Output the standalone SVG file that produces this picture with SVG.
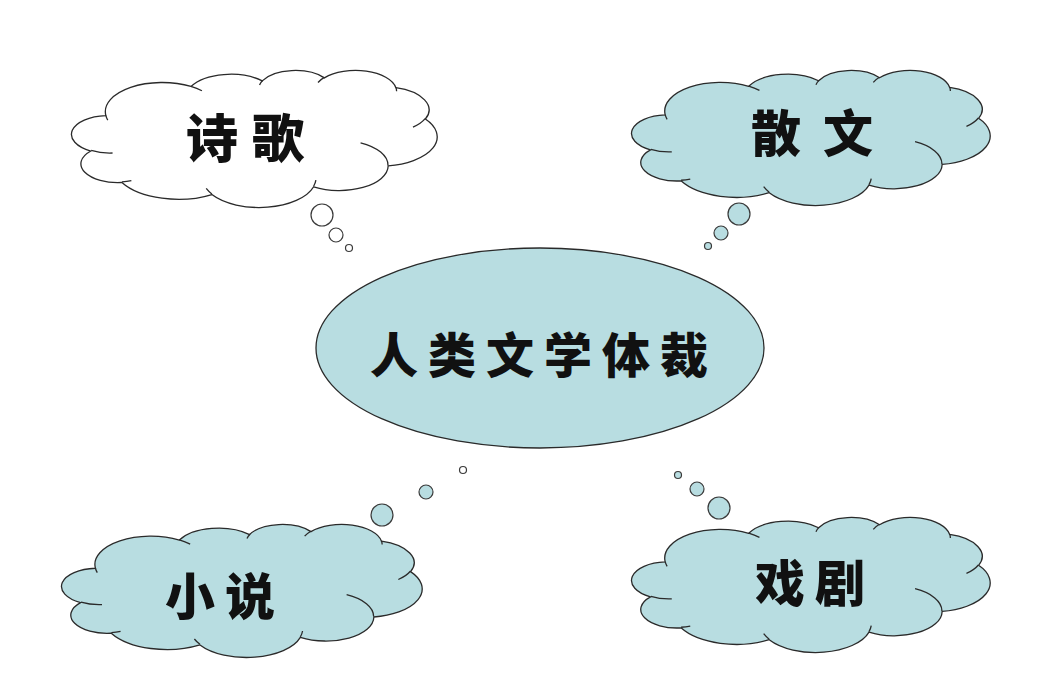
<svg xmlns="http://www.w3.org/2000/svg" xmlns:xlink="http://www.w3.org/1999/xlink" width="1060" height="693" viewBox="0 0 1060 693">
<style>
.blue{fill:#b8dde1}
.white{fill:#ffffff}
.ln{stroke:#2a2a2a;stroke-width:1.3}
.curl{fill:none;stroke:#2a2a2a;stroke-width:1.3}
.bub{stroke:#3a3a3a;stroke-width:1.2}
.lbl{font-family:"Noto Sans CJK SC","Noto Sans CJK JP",sans-serif;font-weight:900;fill:#111111}
</style>
<defs>
<path id="cloudOutline" vector-effect="non-scaling-stroke" d="M3900 14370A6753 9190 0 0 1 14004 5202A5333 7267 0 0 1 22458 3436A4365 5945 0 0 1 29835 2484A4857 6595 0 0 1 38321 5579A5333 7273 0 0 1 41821 15463A6775 9220 0 0 1 37408 30208A5785 7867 0 0 1 28560 36818A6752 9215 0 0 1 16483 39268A7720 10543 0 0 1 5807 35472A4360 5918 0 0 1 2116 25549A4345 5945 0 0 1 3900 14370Z"/>
<path id="cloudCurls" vector-effect="non-scaling-stroke" d="M4693 26177A4345 5945 0 0 1 2160 25380M6928 34899A4360 5918 0 0 1 5819 35281M16478 39090A6752 9215 0 0 1 15811 37351M28827 34751A6752 9215 0 0 1 28560 36660M34129 22954A5785 7867 0 0 1 37380 30089M41798 15354A5333 7273 0 0 1 40350 18030M38324 5426A4857 6595 0 0 1 38400 6690M29078 3952A4857 6595 0 0 1 29820 2340M22141 4720A4365 5945 0 0 1 22500 3330M14000 5192A6753 9190 0 0 1 15301 6542M4127 15789A6753 9190 0 0 1 3900 14370"/>
</defs>
<rect width="1060" height="693" fill="#ffffff"/>
<g id="connectors">
<circle class="white bub" cx="322" cy="215" r="11"/>
<circle class="white bub" cx="336" cy="235" r="7"/>
<circle class="white bub" cx="349" cy="248" r="3.5"/>
<circle class="blue bub" cx="739" cy="214" r="11"/>
<circle class="blue bub" cx="721" cy="233" r="7"/>
<circle class="blue bub" cx="708" cy="246" r="3.5"/>
<circle class="blue bub" cx="382" cy="515" r="11"/>
<circle class="blue bub" cx="426" cy="492" r="7"/>
<circle class="white bub" cx="463" cy="470" r="3.5"/>
<circle class="blue bub" cx="719" cy="508" r="11"/>
<circle class="blue bub" cx="697" cy="489" r="7"/>
<circle class="blue bub" cx="678" cy="475" r="3.5"/>
</g>
<g id="center">
<ellipse class="blue ln" cx="540" cy="348" rx="224" ry="100"/>
<text class="lbl" x="370" y="373" font-size="48" letter-spacing="10">人类文学体裁</text>
</g>
<g id="poetry">
<use xlink:href="#cloudOutline" class="white ln" transform="translate(73 70) scale(0.0084259 0.0031713)"/>
<use xlink:href="#cloudCurls" class="curl" transform="translate(73 70) scale(0.0084259 0.0031713)"/>
<text class="lbl" x="186" y="158" font-size="52" letter-spacing="14">诗歌</text>
</g>
<g id="prose">
<use xlink:href="#cloudOutline" class="blue ln" transform="translate(633 70) scale(0.0082639 0.003125)"/>
<use xlink:href="#cloudCurls" class="curl" transform="translate(633 70) scale(0.0082639 0.003125)"/>
<text class="lbl" x="751" y="152" font-size="50" letter-spacing="22">散文</text>
</g>
<g id="novel">
<use xlink:href="#cloudOutline" class="blue ln" transform="translate(63 524) scale(0.0083102 0.0030787)"/>
<use xlink:href="#cloudCurls" class="curl" transform="translate(63 524) scale(0.0083102 0.0030787)"/>
<text class="lbl" x="165" y="615" font-size="50" letter-spacing="10">小说</text>
</g>
<g id="drama">
<use xlink:href="#cloudOutline" class="blue ln" transform="translate(633 517) scale(0.0082639 0.003125)"/>
<use xlink:href="#cloudCurls" class="curl" transform="translate(633 517) scale(0.0082639 0.003125)"/>
<text class="lbl" x="755" y="602" font-size="50" letter-spacing="10">戏剧</text>
</g>
</svg>
